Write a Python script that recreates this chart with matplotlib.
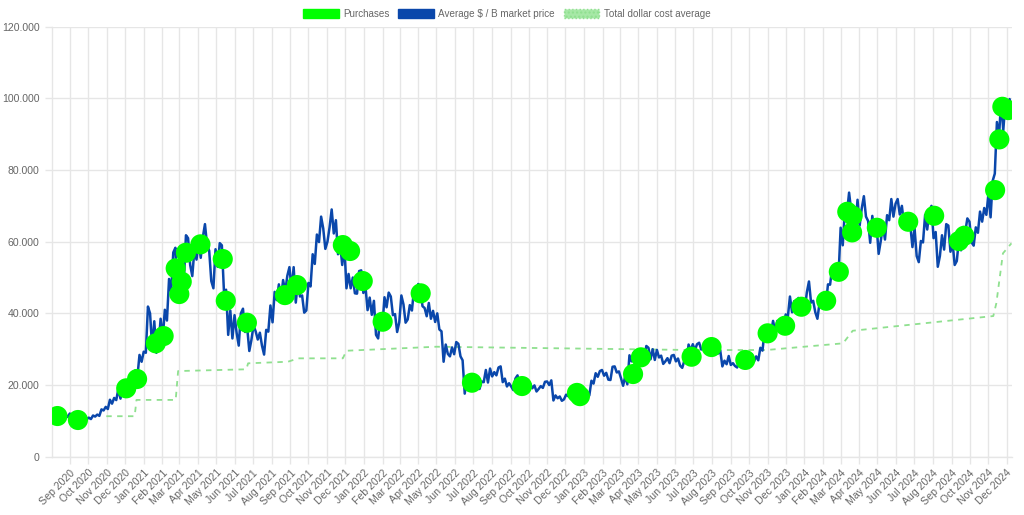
import matplotlib
matplotlib.use("Agg")
import matplotlib.pyplot as plt
import matplotlib.dates as mdates
from matplotlib.patches import Patch
from matplotlib.ticker import FuncFormatter
import numpy as np
import pandas as pd

# ---------------- data ----------------
# weekly low / high of the average market price, weeks starting on Sundays
week_start = "2020-08-02"
week_low = [
    # 2020
    10700, 11200, 11300, 11100, 11200, 9900, 10200, 10100, 10500, 10500, 11200,
    11400, 12900, 13300, 14800, 15800, 16200, 18100, 17600, 19000, 22300, 26500,
    # 2021
    29000, 30500, 29000, 30800, 33000, 38000, 46000, 45000, 43000, 49000, 53500,
    50400, 55000, 55500, 59000, 49000, 47000, 53000, 46000, 34000, 33000, 34500,
    31000, 34800, 29500, 32600, 32700, 31000, 28500, 34900, 37500, 43700, 43900,
    46000, 46700, 43000, 44700, 40200, 40800, 47500, 53800, 59900, 58000, 60000,
    62300, 56500, 53500, 47000, 47000, 45600, 45500, 45700,
    # 2022
    40900, 39600, 34000, 33000, 36300, 41700, 39500, 34800, 37500, 37400, 38300,
    40800, 45200, 42000, 39200, 38500, 37600, 35500, 26500, 28700, 28000, 28600,
    28000, 17600, 19700, 18700, 19000, 18900, 20800, 20700, 22400, 22700, 20800,
    19600, 19600, 18600, 19600, 18200, 18800, 19100, 18200, 18900, 19200, 20000,
    15700, 16300, 15600, 16000, 16900, 16500, 16400, 16500,
    # 2023
    16500, 17100, 20400, 22300, 22600, 21500, 21400, 23500, 21900, 19800, 20200,
    26600, 26600, 27300, 28000, 27200, 27000, 27700, 25900, 26600, 26100, 26600,
    25400, 24800, 26300, 29600, 29700, 29900, 29600, 28900, 28600, 28800, 25200,
    25800, 25600, 25300, 24900, 26200, 26000, 27100, 26600, 26900, 29600, 33900,
    34500, 35000, 35800, 36700, 39000, 40300, 40600, 41500, 40800,
    # 2024
    43000, 40300, 38500, 41900, 42200, 48000, 50600, 50500, 59000, 68000, 61000,
    64500, 64500, 67000, 59700, 62800, 56600, 60200, 60600, 66000, 67000, 67600,
    65000, 63400, 58500, 56000, 54300, 59800, 63400, 61000, 53000, 56000, 57800,
    57200, 53500, 54600, 57600, 62700, 59800, 58900, 62500, 65600, 67500, 66800,
    79000, 89300, 91000, 94500, 96000,
]
week_high = [
    # 2020
    12000, 12000, 12400, 11700, 12050, 10600, 11100, 10900, 10900, 11500, 11750,
    13200, 13900, 15900, 16400, 18900, 19400, 19900, 19400, 24100, 28400, 29300,
    # 2021
    41900, 40000, 37800, 38500, 41000, 49600, 57000, 58300, 52600, 61800, 61000,
    57800, 60200, 61300, 64900, 57500, 57900, 59600, 59000, 46600, 40800, 39500,
    40000, 41300, 36000, 36600, 35000, 34600, 35400, 42200, 46000, 48100, 49300,
    50500, 52900, 52900, 48800, 45000, 48500, 56500, 62000, 67000, 63700, 64000,
    69000, 66000, 59400, 59000, 51000, 50000, 51800, 52000,
    # 2022
    47500, 44400, 43500, 38500, 44500, 45800, 44700, 39800, 45000, 42500, 42300,
    46800, 48200, 47400, 41500, 42900, 40700, 40000, 35000, 31300, 30500, 32000,
    31500, 26900, 21800, 21500, 22400, 21000, 24200, 24600, 23600, 24900, 25200,
    21800, 20500, 21800, 22700, 19900, 20300, 20400, 19900, 19700, 20900, 21000,
    21300, 17100, 16800, 17300, 17400, 18300, 16900, 16900,
    # 2023
    17400, 21200, 23300, 23900, 24200, 23400, 25100, 25200, 23800, 22500, 28300,
    28900, 29100, 28600, 30900, 30400, 30000, 29800, 28200, 27500, 28200, 28400,
    27400, 26800, 31300, 31400, 31400, 31800, 30400, 30000, 29700, 30200, 29600,
    26800, 28100, 26100, 26900, 27400, 28000, 28600, 28000, 30400, 35200, 35900,
    37900, 37900, 38400, 39700, 44700, 43400, 44300, 43800, 45900,
    # 2024
    48900, 43500, 42800, 43800, 48100, 52800, 52900, 63900, 69100, 73700, 68600,
    71700, 69300, 72700, 65800, 67200, 64700, 64400, 67400, 71900, 70600, 71900,
    70000, 66900, 64500, 63800, 60200, 67500, 68500, 70000, 62700, 61800, 64900,
    64500, 59800, 60600, 64100, 66500, 65600, 64000, 68400, 69400, 73500, 77000,
    93400, 99500, 98700, 99800, 100000,
]

purchase_dates = [
    "2020-08-11", "2020-09-14", "2020-12-03", "2020-12-21", "2021-01-21", "2021-02-03",
    "2021-02-23", "2021-03-01", "2021-03-05", "2021-03-12", "2021-04-05", "2021-05-12",
    "2021-05-17", "2021-06-21", "2021-08-23", "2021-09-12", "2021-11-27", "2021-12-09",
    "2021-12-30", "2022-02-01", "2022-04-05", "2022-06-29", "2022-09-20", "2022-12-20",
    "2022-12-25", "2023-03-23", "2023-04-05", "2023-06-28", "2023-07-31", "2023-09-25",
    "2023-11-01", "2023-11-30", "2023-12-27", "2024-02-06", "2024-02-27", "2024-03-12",
    "2024-03-21", "2024-03-20", "2024-04-30", "2024-06-21", "2024-08-03", "2024-09-13",
    "2024-09-22", "2024-11-12", "2024-11-19", "2024-11-24", "2024-12-04",
]
purchase_prices = [
    11350, 10240, 19080, 21680, 31640, 33670,
    52560, 45390, 48830, 56920, 59260, 55160,
    43520, 37390, 45100, 47900, 59060, 57400,
    49020, 37670, 45590, 20650, 19720, 17800,
    16900, 23070, 27730, 27900, 30600, 27000,
    34430, 36550, 41850, 43520, 51600, 68350,
    67240, 62600, 63890, 65570, 67240, 60180,
    61660, 74400, 88550, 97650, 96730,
]

dca_dates = [
    "2020-10-31", "2020-12-17", "2020-12-20", "2021-02-23", "2021-02-27", "2021-06-20",
    "2021-06-23", "2021-08-28", "2021-09-14", "2021-11-27", "2021-12-03", "2022-05-01",
    "2023-06-30", "2023-10-30", "2024-03-05", "2024-03-21", "2024-11-09", "2024-11-14",
    "2024-11-25", "2024-12-09",
]
dca_values = [
    11300, 11300, 15850, 15850, 23900, 24390,
    26060, 26500, 27450, 27450, 29570, 30690,
    29770, 29770, 31640, 35150, 39250, 42800,
    56750, 59540,
]

legend_labels = ["Purchases", "Average $ / B market price", "Total dollar cost average"]
y_ticks = [0, 20000, 40000, 60000, 80000, 100000, 120000]

# ---------------- styles ----------------
BLUE = "#0a47ab"
LIME = "#00ff00"
DCA_GREEN = "#8fe08f"
GRID = "#e6e6e6"
TXT = "#666666"
FS = 7.6

plt.rcParams["font.family"] = ["Liberation Sans", "DejaVu Sans"]

fig = plt.figure(figsize=(10.24, 5.15), dpi=100)
ax = fig.add_axes([52 / 1024, 1 - 456.7 / 515, (1012 - 52) / 1024, (456.7 - 26.7) / 515])

# order each week's low/high along the local trend so the line wiggles like daily data
weeks = pd.date_range(week_start, periods=len(week_low), freq="7D")
lo = np.array(week_low, float)
hi = np.array(week_high, float)
mid = (lo + hi) / 2
px, py = [], []
for i, w in enumerate(weeks):
    prev_m = mid[max(i - 1, 0)]
    next_m = mid[min(i + 1, len(mid) - 1)]
    first, second = (lo[i], hi[i]) if next_m >= prev_m else (hi[i], lo[i])
    px += [w + pd.Timedelta(days=1.5), w + pd.Timedelta(days=5)]
    py += [first, second]

pd_dates = pd.to_datetime(purchase_dates)
dc_dates = pd.to_datetime(dca_dates)

ax.plot(dc_dates, dca_values, color=DCA_GREEN, lw=1.3, dashes=(3, 3), zorder=2)
ax.plot(px, py, color=BLUE, lw=1.8, zorder=3, solid_joinstyle="round")
ax.scatter(pd_dates, purchase_prices, s=210, color=LIME, edgecolors="none", zorder=4)

ax.set_xlim(pd.Timestamp("2020-08-02"), pd.Timestamp("2024-12-10"))
ax.set_ylim(0, 120000)
ax.set_yticks(y_ticks)
ax.yaxis.set_major_formatter(FuncFormatter(lambda v, p: f"{int(v):,}".replace(",", ".")))

ax.xaxis.set_major_locator(mdates.MonthLocator())
ax.xaxis.set_major_formatter(mdates.DateFormatter("%b %Y"))
for lab in ax.get_xticklabels():
    lab.set_rotation(45)
    lab.set_ha("right")
    lab.set_rotation_mode("anchor")

ax.grid(True, color=GRID, lw=1)
ax.set_axisbelow(True)
for s in ["top", "right"]:
    ax.spines[s].set_visible(False)
for s in ["left", "bottom"]:
    ax.spines[s].set_color(GRID)
    ax.spines[s].set_linewidth(1)
ax.tick_params(axis="both", colors=GRID, length=5, width=1, labelsize=FS, labelcolor=TXT)
ax.tick_params(axis="x", pad=3)
ax.tick_params(axis="y", pad=4)

handles = [
    Patch(facecolor=LIME, edgecolor=LIME),
    Patch(facecolor=BLUE, edgecolor=BLUE),
    Patch(facecolor="#a6e8a6", edgecolor=DCA_GREEN, hatch="....", linestyle=":"),
]
fig.legend(handles, legend_labels, loc="upper center", bbox_to_anchor=(0.495, 1.0), ncol=3,
           frameon=False, fontsize=7.1, labelcolor=TXT, handlelength=3.6, handleheight=1.05,
           columnspacing=0.9, handletextpad=0.45)

fig.savefig("out.png", dpi=100)
